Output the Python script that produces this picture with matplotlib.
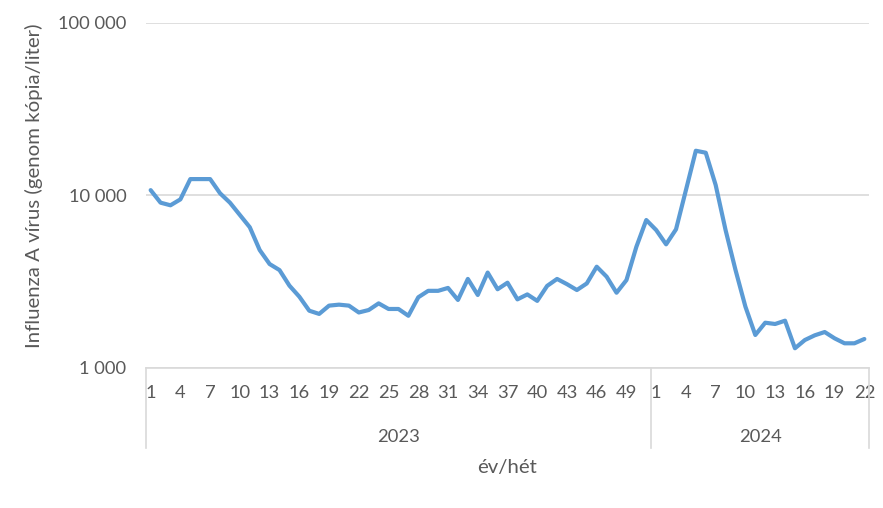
import matplotlib
matplotlib.use("Agg")
import matplotlib.pyplot as plt
import numpy as np

plt.rcParams['font.family'] = ['Lato', 'DejaVu Sans']

years = ["2023", "2024"]
weeks_2023 = list(range(1, 52))
weeks_2024 = list(range(1, 23))

values_2023 = [10700, 9050, 8740, 9460, 12400, 12400, 12400, 10260, 9050, 7680,
               6520, 4810, 3990, 3680, 2990, 2580, 2140, 2050, 2290, 2320,
               2290, 2090, 2160, 2360, 2190, 2190, 2000, 2560, 2790, 2790,
               2900, 2470, 3270, 2640, 3560, 2850, 3110, 2490, 2660, 2440,
               2980, 3270, 3050, 2820, 3080, 3850, 3370, 2720, 3220, 5020,
               7180]
values_2024 = [6280, 5190, 6340, 10700, 18100, 17630, 11460, 6280, 3690, 2260,
               1548, 1823, 1792, 1873, 1296, 1447, 1541, 1610, 1480, 1385,
               1385, 1467]

y_ticks = [1000, 10000, 100000]
y_tick_labels = ["1 000", "10 000", "100 000"]

values = values_2023 + values_2024
week_labels = weeks_2023 + weeks_2024
n = len(values)
x = np.arange(n)

W, H = 883, 508
fig = plt.figure(figsize=(W / 100, H / 100), dpi=100)
L, R, T, B = 145.7, 869.3, 22.7, 367.7
ax = fig.add_axes([L / W, 1 - B / H, (R - L) / W, (B - T) / H])

txt = '#595959'
grid = '#d9d9d9'
fs = 13.2

ax.plot(x, values, color='#5B9BD5', lw=3.0, solid_joinstyle='round', solid_capstyle='round', zorder=3)
ax.set_yscale('log')
ax.set_ylim(1000, 100000)
ax.set_xlim(-0.5, n - 0.5)

ax.set_yticks(y_ticks)
ax.set_yticklabels(y_tick_labels)
ax.yaxis.set_minor_locator(matplotlib.ticker.NullLocator())
ax.tick_params(axis='y', length=0, pad=14, labelsize=fs, labelcolor=txt)
ax.yaxis.grid(True, color=grid, lw=1.2)
ax.set_axisbelow(True)

tick_idx = [i for i in range(0, n, 3)]
ax.set_xticks(tick_idx)
ax.set_xticklabels([str(week_labels[i]) for i in tick_idx])
ax.tick_params(axis='x', length=0, pad=12.5, labelsize=fs, labelcolor=txt)

for s in ['top', 'right', 'left']:
    ax.spines[s].set_visible(False)
ax.spines['bottom'].set_color(grid)
ax.spines['bottom'].set_linewidth(1.2)

n23 = len(values_2023)
depth = (448 - B) / (B - T)
trans = ax.get_xaxis_transform()
for xb in [-0.5, n23 - 0.5, n - 0.5]:
    ax.plot([xb, xb], [0, -depth], transform=trans, color=grid, lw=1.2, clip_on=False)

ylab = -(437 - B) / (B - T)
ax.text((-0.5 + n23 - 0.5) / 2, ylab, years[0], transform=trans, ha='center', va='center', fontsize=fs, color=txt)
ax.text((n23 - 0.5 + n - 0.5) / 2, ylab, years[1], transform=trans, ha='center', va='center', fontsize=fs, color=txt)

fig.text(((L + R) / 2) / W, 1 - 467 / H, "év/hét", ha='center', va='center', fontsize=14.7, color=txt)
fig.text(34 / W, 1 - 186 / H, "Influenza A vírus (genom kópia/liter)", rotation=90,
         ha='center', va='center', fontsize=14.7, color=txt)

fig.savefig("out.png", dpi=100)
